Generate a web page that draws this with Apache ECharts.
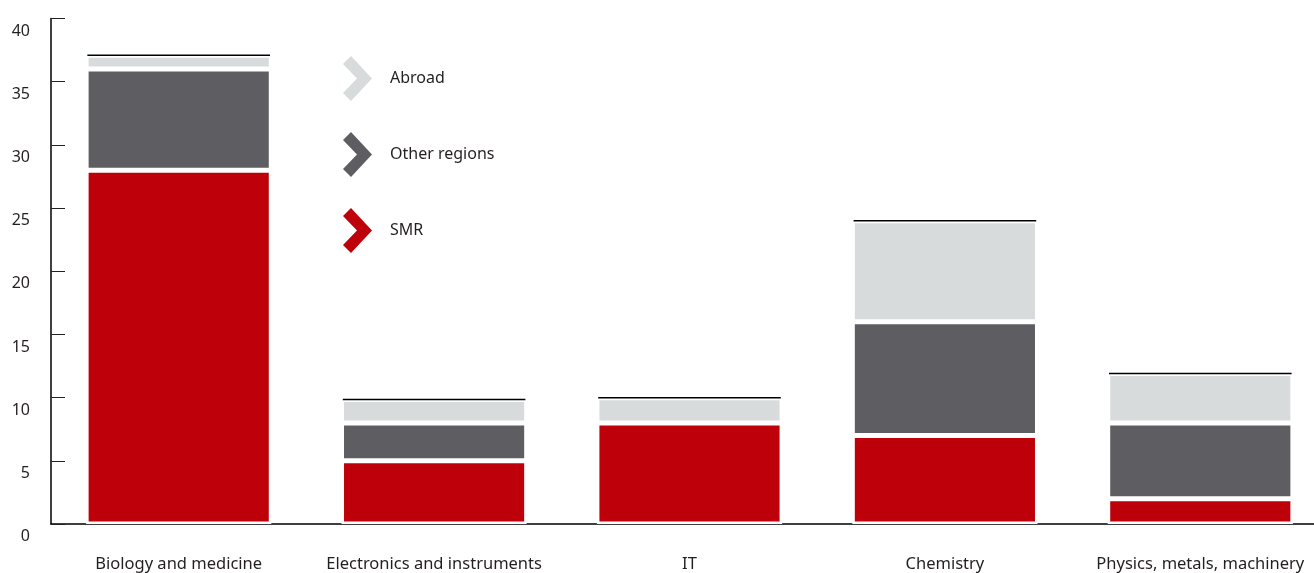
<!DOCTYPE html>
<html>
<head>
<meta charset="utf-8">
<script src="https://cdn.jsdelivr.net/npm/echarts@6/dist/echarts.min.js"></script>
<style>
	html, body { margin: 0; padding: 0; background: #fff; overflow: hidden; }
	/* the axis runs past the right edge of the picture */
	#chart { width: 1330px; height: 573px; }
</style>
</head>
<body>
<div id="chart"></div>
<script>
	// categories and series values
	var categories = ['Biology and medicine', 'Electronics and instruments', 'IT', 'Chemistry', 'Physics, metals, machinery'];
	var smrValues = [28, 5, 8, 7, 2];
	var otherValues = [8, 3, 0, 9, 6];
	var abroadValues = [1.1, 1.85, 2, 8, 3.9];
	var yTicks = [0, 5, 10, 15, 20, 25, 30, 35, 40];

	var fontFamily = '"Noto Sans", "Open Sans", sans-serif';
	var textColor = '#231f20';
	var chevron = 'path://M0,8 L8,0 L29,22.5 L8,45 L0,37 L14,22.5 Z';
	var barW = '72.5%';

	// total of each stack, for the black cap line
	var totals = [];
	for (var i = 0; i < categories.length; i++) {
		totals.push([i, smrValues[i] + otherValues[i] + abroadValues[i]]);
	}

	var barBorder = {
		borderColor: '#ffffff',
		borderWidth: 2.5
	};

	var option = {
		animation: false,
		grid: {
			left: 51,
			top: 18.5,
			height: 508,
			width: 1277
		},
		legend: {
			orient: 'vertical',
			left: 343,
			top: 56,
			padding: 0,
			itemWidth: 29,
			itemHeight: 45,
			itemGap: 31,
			selectedMode: false,
			itemStyle: { borderWidth: 0 },
			textStyle: {
				fontFamily: fontFamily,
				fontSize: 16,
				color: textColor,
				padding: [2, 0, 0, 13]
			},
			data: [
				{ name: 'Abroad', icon: chevron },
				{ name: 'Other regions', icon: chevron },
				{ name: 'SMR', icon: chevron }
			]
		},
		xAxis: {
			type: 'category',
			data: categories,
			boundaryGap: true,
			axisLine: { lineStyle: { color: '#000', width: 1.5 } },
			axisTick: { inside: true, length: 14, lineStyle: { color: '#222', width: 1 } },
			axisLabel: {
				margin: 32,
				fontFamily: fontFamily,
				fontSize: 16.5,
				color: textColor,
				interval: 0
			}
		},
		yAxis: {
			type: 'value',
			min: yTicks[0],
			max: yTicks[yTicks.length - 1],
			interval: 5,
			splitLine: { show: false },
			axisLine: { show: true, lineStyle: { color: '#000', width: 1.5 } },
			axisTick: { show: true, inside: true, length: 14, lineStyle: { color: '#222', width: 1 } },
			axisLabel: {
				margin: 21,
				fontFamily: fontFamily,
				fontSize: 16,
				color: textColor,
				verticalAlign: 'top',
				lineHeight: 25
			}
		},
		series: [{
				name: 'SMR',
				type: 'bar',
				stack: 'all',
				barWidth: barW,
				itemStyle: Object.assign({ color: '#bd0009' }, barBorder),
				data: smrValues
			},
			{
				name: 'Other regions',
				type: 'bar',
				stack: 'all',
				barWidth: barW,
				itemStyle: Object.assign({ color: '#5e5d62' }, barBorder),
				data: otherValues
			},
			{
				name: 'Abroad',
				type: 'bar',
				stack: 'all',
				barWidth: barW,
				itemStyle: Object.assign({ color: '#d8dbdc' }, barBorder),
				data: abroadValues
			},
			{
				// black cap on top of each stack
				name: 'cap',
				type: 'custom',
				silent: true,
				renderItem: function(params, api) {
					var pt = api.coord([api.value(0), api.value(1)]);
					var w = api.size([1, 0])[0] * 0.715;
					return {
						type: 'line',
						shape: { x1: pt[0] - w / 2, y1: pt[1], x2: pt[0] + w / 2, y2: pt[1] },
						style: { stroke: '#000', lineWidth: 1.5 }
					};
				},
				data: totals,
				z: 5
			}
		]
	};

	echarts.init(document.getElementById('chart')).setOption(option);
</script>
</body>
</html>
